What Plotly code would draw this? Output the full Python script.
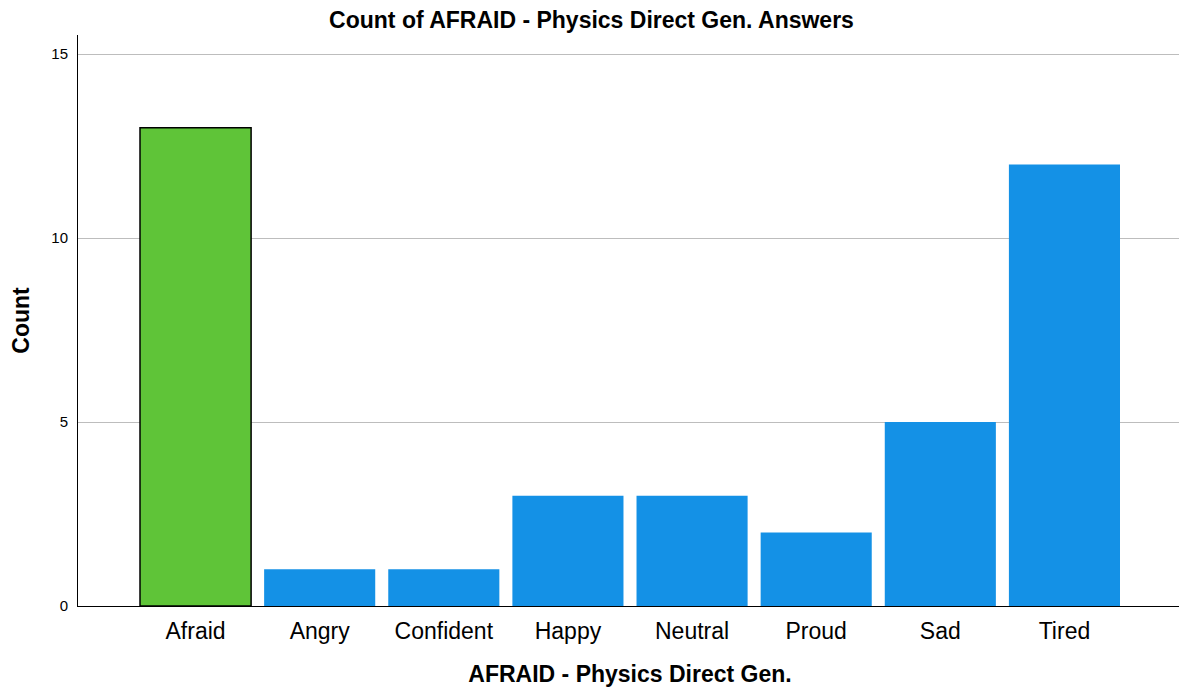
import plotly.graph_objects as go

# Data
answers = ['Afraid', 'Angry', 'Confident', 'Happy', 'Neutral', 'Proud', 'Sad', 'Tired']
counts = [13, 1, 1, 3, 3, 2, 5, 12]
y_ticks = [0, 5, 10, 15]

# Styling: the correct answer is highlighted in green
bar_colors = ['#5FC438' if a == 'Afraid' else '#1491E6' for a in answers]
line_widths = [1.5 if a == 'Afraid' else 0 for a in answers]

fig = go.Figure(go.Bar(
    x=answers, y=counts,
    marker=dict(color=bar_colors, line=dict(color='black', width=line_widths)),
))

# page body has an 8px default margin, so the margins are offset for it
fig.update_layout(
    width=1187, height=693,
    margin=dict(l=70, r=13, t=27, b=95),
    plot_bgcolor='white', paper_bgcolor='white',
    font=dict(family='Liberation Sans, Arial, sans-serif', color='black'),
    title=dict(text='<b>Count of AFRAID - Physics Direct Gen. Answers</b>',
               x=583.5 / 1187, xanchor='center',
               y=1 - 12 / 693, yanchor='middle', font=dict(size=23)),
    bargap=0.105,
    showlegend=False,
)
fig.update_xaxes(
    range=[-0.947, 7.947], showline=True, linecolor='black', linewidth=1,
    showgrid=False, ticks='', tickfont=dict(size=23), ticklabelstandoff=4,
    automargin=False,
    title=dict(text='<b>AFRAID - Physics Direct Gen.</b>', font=dict(size=23), standoff=23),
)
fig.update_yaxes(
    range=[0, 15.52], tickvals=y_ticks, showline=True, linecolor='black', linewidth=1,
    showgrid=True, gridcolor='#BDBDBD', gridwidth=1, zeroline=False, ticks='',
    tickfont=dict(size=15), ticklabelstandoff=6, automargin=False,
    title=dict(text='<b>Count</b>', font=dict(size=23), standoff=16),
)

fig.write_html("out.html")
